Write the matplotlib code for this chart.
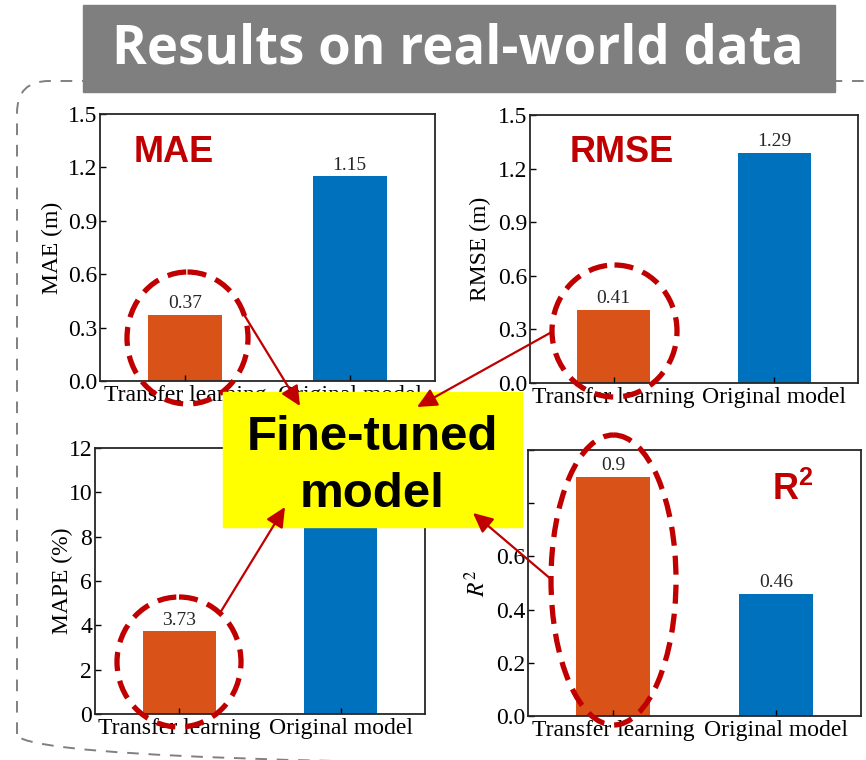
import matplotlib
matplotlib.use("Agg")
import matplotlib.pyplot as plt
from matplotlib.patches import Ellipse, Rectangle, PathPatch, FancyArrowPatch
from matplotlib.path import Path

W, H = 866, 760

# data
methods = ['Transfer learning', 'Original model']
mae = [0.37, 1.15]
rmse = [0.41, 1.29]
mape = [3.73, 10.5]   # original-model value is hidden behind the yellow box
r2 = [0.9, 0.46]

bar_colors = ['#D95319', '#0072BD']
dark_red = '#C00000'

plt.rcParams['font.family'] = ['Liberation Serif', 'DejaVu Serif']
plt.rcParams['mathtext.fontset'] = 'stix'
plt.rcParams['mathtext.bf'] = 'Liberation Sans:bold'
plt.rcParams['mathtext.rm'] = 'Liberation Sans'


def px_rect(l, t, r, b):
    """axes rect in figure fraction from pixel box"""
    return [l / W, 1 - b / H, (r - l) / W, (b - t) / H]


def rounded_frame(l, t, r, b, rad):
    """closed rounded-rectangle path in pixel coords (y down)"""
    verts = [(l, b - rad), (l, t + rad), (l, t), (l + rad, t),
             (r - rad, t), (r, t), (r, t + rad),
             (r, b - rad), (r, b), (r - rad, b),
             (l + rad, b), (l, b), (l, b - rad)]
    codes = [Path.MOVETO, Path.LINETO, Path.CURVE3, Path.CURVE3,
             Path.LINETO, Path.CURVE3, Path.CURVE3,
             Path.LINETO, Path.CURVE3, Path.CURVE3,
             Path.LINETO, Path.CURVE3, Path.CURVE3]
    return Path(verts, codes)


fig = plt.figure(figsize=(W / 100, H / 100), dpi=100)

panels = [
    # values, ylabel, tag, box, yticks, ylabels, label x, tag pos, labelled bars
    (mae, 'MAE (m)', 'MAE', (100, 114, 435, 381), [0, 0.3, 0.6, 0.9, 1.2, 1.5],
     ['0.0', '0.3', '0.6', '0.9', '1.2', '1.5'], -0.11, (0.099, 0.82), [0, 1]),
    (rmse, 'RMSE (m)', 'RMSE', (530, 115, 858, 383), [0, 0.3, 0.6, 0.9, 1.2, 1.5],
     ['0.0', '0.3', '0.6', '0.9', '1.2', '1.5'], -0.12, (0.122, 0.825), [0, 1]),
    (mape, 'MAPE (%)', None, (95, 448, 425, 714), [0, 2, 4, 6, 8, 10, 12],
     ['0', '2', '4', '6', '8', '10', '12'], -0.068, None, [0]),
    (r2, '$R^2$', r'$\mathbf{R}^{\mathbf{2}}$', (528, 450, 861, 716),
     [0, 0.2, 0.4, 0.6, 0.8, 1.0],
     ['0.0', '0.2', '0.4', '0.6', '', ''], -0.113, (0.733, 0.812), [0, 1]),
]

for vals, ylab, tag, box, yt, ytl, labx, tagpos, shown in panels:
    ax = fig.add_axes(px_rect(*box))
    x = list(range(len(methods)))
    bars = ax.bar(x, vals, width=0.45, color=bar_colors)
    ax.set_xlim(-0.52, 1.52)
    ax.set_ylim(yt[0], yt[-1])
    ax.set_yticks(yt)
    ax.set_yticklabels(ytl)
    ax.set_xticks(x)
    ax.set_xticklabels(methods)
    ax.tick_params(direction='in', length=4, width=1, labelsize=17, pad=2)
    ax.tick_params(axis='x', pad=3)
    for s in ax.spines.values():
        s.set_linewidth(1.3)
        s.set_color('#262626')
    ax.set_ylabel(ylab, fontsize=17)
    ax.yaxis.set_label_coords(labx, 0.5)
    for i in shown:
        b = bars[i]
        ax.annotate('%g' % vals[i], (b.get_x() + b.get_width() / 2, vals[i]),
                    xytext=(0, 2), textcoords='offset points',
                    ha='center', va='bottom', fontsize=14, color='#262626')
    if tag:
        ax.text(tagpos[0], tagpos[1], tag, transform=ax.transAxes,
                fontsize=26, fontweight='bold', color=dark_red,
                family='Liberation Sans', math_fontfamily='custom',
                va='baseline', ha='left')

# overlay in pixel coordinates for the annotations
ov = fig.add_axes([0, 0, 1, 1], zorder=10)
ov.set_xlim(0, W)
ov.set_ylim(H, 0)
ov.axis('off')

ov.add_patch(PathPatch(rounded_frame(17, 81, 900, 766, 32), fill=False,
                       ec='#808080', lw=1.4, ls=(0, (6, 5)), zorder=1))

ov.add_patch(Rectangle((83, 5), 752, 87, color='#7F7F7F', zorder=2))
ov.text(458, 63, 'Results on real-world data', color='white', fontsize=38,
        fontweight='bold', family='Open Sans', ha='center', va='baseline',
        zorder=3)

# dashed circles around the transfer-learning bars
rings = [(187.5, 338, 121, 132), (614.5, 331, 125, 132),
         (179, 662, 124, 130), (613.5, 580, 125, 290)]
for cx, cy, w, h in rings:
    ov.add_patch(Ellipse((cx, cy), w, h, fill=False, ec=dark_red, lw=3.8,
                         ls=(0, (3.6, 1.9)), zorder=4))

ov.add_patch(Rectangle((223, 392), 299, 135, color='#FFFF00', zorder=5))
ov.text(372, 450, 'Fine-tuned', fontsize=35.5, fontweight='bold',
        family='Liberation Sans', ha='center', va='baseline', zorder=6)
ov.text(372.5, 507, 'model', fontsize=35.5, fontweight='bold',
        family='Liberation Sans', ha='center', va='baseline', zorder=6)

arrows = [((243, 313), (300, 406)), ((550, 333), (417, 407)),
          ((220, 613), (285, 507)), ((552, 580), (473, 513))]
for p0, p1 in arrows:
    ov.add_patch(FancyArrowPatch(p0, p1, arrowstyle='-|>,head_length=0.8,head_width=0.38',
                                 mutation_scale=15, color=dark_red, lw=1.6,
                                 shrinkA=0, shrinkB=0, zorder=7))

fig.savefig('out.png', dpi=100)
